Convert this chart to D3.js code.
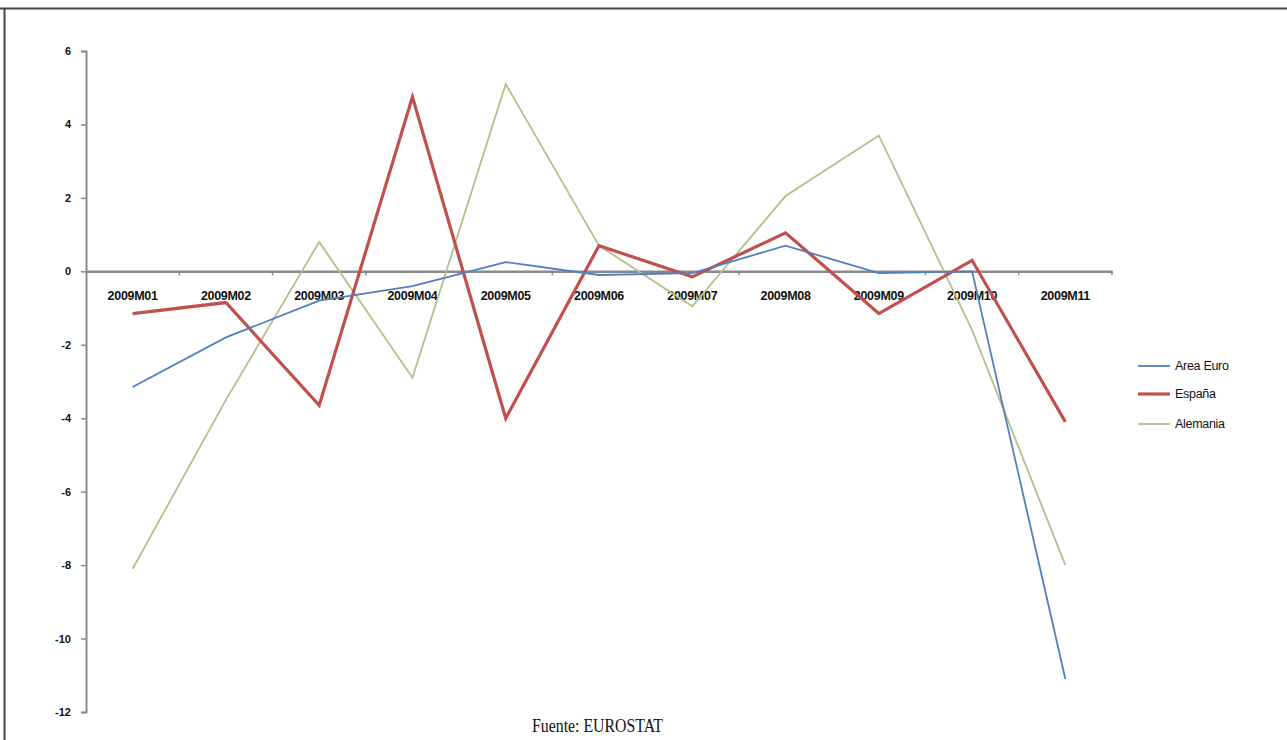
<!DOCTYPE html>
<html><head><meta charset="utf-8">
<script src="https://cdn.jsdelivr.net/npm/d3@7"></script>
<style>body{margin:0;background:#fff}svg{display:block}</style>
</head><body>
<script>
const categories = ["2009M01","2009M02","2009M03","2009M04","2009M05","2009M06","2009M07","2009M08","2009M09","2009M10","2009M11"];
const areaEuro = [-3.15,-1.8,-0.8,-0.4,0.25,-0.1,-0.05,0.7,-0.05,0.0,-11.1];
const espana   = [-1.15,-0.85,-3.65,4.75,-4.0,0.7,-0.15,1.05,-1.15,0.3,-4.1];
const alemania = [-8.1,-3.5,0.8,-2.9,5.1,0.7,-0.95,2.05,3.7,-1.6,-8.0];
const yTicks = [6,4,2,0,-2,-4,-6,-8,-10,-12];
const seriesNames = ["Area Euro","España","Alemania"];

const W=1287,H=740;
const svg=d3.select("body").append("svg").attr("width",W).attr("height",H);
// frame
svg.append("line").attr("x1",0).attr("x2",W).attr("y1",8.5).attr("y2",8.5).attr("stroke","#444").attr("stroke-width",2);
svg.append("line").attr("x1",4.5).attr("x2",4.5).attr("y1",8).attr("y2",H).attr("stroke","#444").attr("stroke-width",2);

const x=d3.scaleBand().domain(categories).range([86,1112]);
const y=d3.scaleLinear().domain([-12,6]).range([712,51]);
const font="'Liberation Sans', Arial, sans-serif";

// y axis
const ya=svg.append("g").attr("transform","translate(86,0)").call(d3.axisLeft(y).tickValues(yTicks).tickSize(5).tickFormat(d=>String(d)));
ya.select(".domain").attr("stroke","#8a8a8a").attr("stroke-width",2);
ya.selectAll(".tick line").attr("stroke","#8a8a8a").attr("stroke-width",1.5);
ya.selectAll("text").attr("font-family",font).attr("font-size",11).attr("font-weight","bold").attr("fill","#111").attr("x",-15);

// x axis at 0
const xa=svg.append("g").attr("transform",`translate(0,${y(0)})`).call(d3.axisBottom(x).tickSize(0).tickSizeOuter(0));
xa.select(".domain").attr("stroke","#8a8a8a").attr("stroke-width",2.5);
xa.selectAll("text").attr("font-family",font).attr("font-size",12.5).attr("font-weight","bold").attr("fill","#111").attr("y",20).attr("letter-spacing",-0.3);
// boundary ticks
const bounds=categories.map(c=>x(c)).concat([x.range()[1]]).slice(1);
svg.append("g").selectAll("line").data(bounds).join("line")
  .attr("x1",d=>d).attr("x2",d=>d).attr("y1",y(0)).attr("y2",y(0)+4).attr("stroke","#8a8a8a").attr("stroke-width",1.5);

const series=[
 {name:seriesNames[0],values:areaEuro,color:"#4F81BD",w:1.8},
 {name:seriesNames[1],values:espana,color:"#C0504D",w:3.2},
 {name:seriesNames[2],values:alemania,color:"#B4C08A",w:1.8}
];
const line=d3.line().x((d,i)=>x(categories[i])+x.bandwidth()/2).y(d=>y(d));
[series[2],series[1],series[0]].forEach(s=>{
  svg.append("path").datum(s.values).attr("d",line).attr("fill","none")
   .attr("stroke",s.color).attr("stroke-width",s.w).attr("stroke-linejoin","miter");
});

// legend
const lg=svg.append("g");
const ly=[366,394,424];
series.forEach((s,i)=>{
  lg.append("line").attr("x1",1138).attr("x2",1170).attr("y1",ly[i]).attr("y2",ly[i]).attr("stroke",s.color).attr("stroke-width",s.w);
  lg.append("text").attr("x",1175).attr("y",ly[i]+4).attr("font-family",font).attr("font-size",12.5).attr("fill","#111").attr("letter-spacing",-0.3).text(s.name);
});

// source
svg.append("text").attr("x",532).attr("y",732).attr("font-family","'Liberation Serif','Times New Roman',serif").attr("font-size",18).attr("fill","#111")
  .attr("textLength",131).attr("lengthAdjust","spacingAndGlyphs").text("Fuente: EUROSTAT");
</script>
</body></html>
